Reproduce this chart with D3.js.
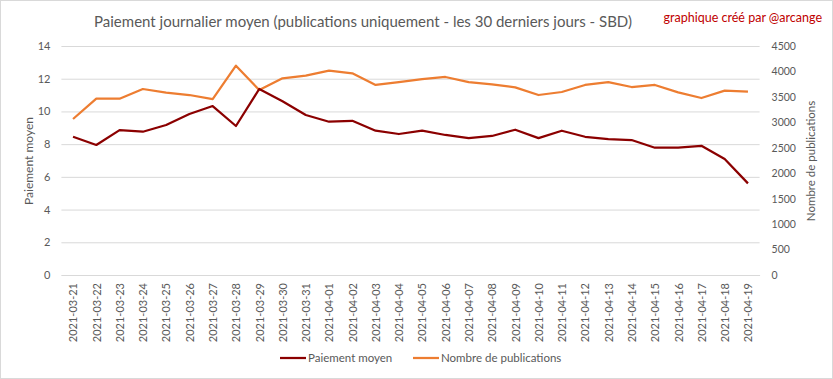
<!DOCTYPE html>
<html><head><meta charset="utf-8">
<script src="https://cdn.jsdelivr.net/npm/d3@7/dist/d3.min.js"></script>
<style>body{margin:0;background:#fff}svg{display:block}text{font-family:Lato,"Open Sans",sans-serif}</style>
</head><body><svg id="c" width="833" height="379"></svg>
<script>
const dates = ["2021-03-21","2021-03-22","2021-03-23","2021-03-24","2021-03-25","2021-03-26","2021-03-27","2021-03-28","2021-03-29","2021-03-30","2021-03-31","2021-04-01","2021-04-02","2021-04-03","2021-04-04","2021-04-05","2021-04-06","2021-04-07","2021-04-08","2021-04-09","2021-04-10","2021-04-11","2021-04-12","2021-04-13","2021-04-14","2021-04-15","2021-04-16","2021-04-17","2021-04-18","2021-04-19"];
const paiement = [8.45,7.95,8.86,8.76,9.17,9.84,10.33,9.11,11.37,10.62,9.78,9.37,9.43,8.82,8.62,8.82,8.56,8.37,8.50,8.88,8.37,8.82,8.45,8.31,8.25,7.78,7.78,7.90,7.09,5.60];
const publications = [3065,3465,3465,3655,3583,3537,3458,4113,3635,3865,3917,4015,3963,3734,3792,3851,3891,3792,3747,3688,3537,3596,3734,3792,3694,3734,3590,3478,3622,3602];
const leftTicks = [0,2,4,6,8,10,12,14];
const rightTicks = [0,500,1000,1500,2000,2500,3000,3500,4000,4500];

const svg = d3.select("#c");
const L = 61.4, R = 759.6, T = 46, B = 275;
svg.append("rect").attr("x",0.5).attr("y",0.5).attr("width",832).attr("height",378).attr("fill","#fff").attr("stroke","#d9d9d9");

const x = d3.scalePoint().domain(dates).range([L, R]).padding(0.5);
const yL = d3.scaleLinear().domain([0,14]).range([B, T]);
const yR = d3.scaleLinear().domain([0,4500]).range([B, T]);

// gridlines
svg.append("g").selectAll("line").data(leftTicks).join("line")
  .attr("x1",L).attr("x2",R).attr("y1",d=>yL(d)+0.5).attr("y2",d=>yL(d)+0.5)
  .attr("stroke","#d9d9d9").attr("stroke-width",1);

// left axis
const gl = svg.append("g").attr("transform",`translate(${L},0)`)
  .call(d3.axisLeft(yL).tickValues(leftTicks).tickSize(0).tickPadding(11).tickFormat(d3.format("d")));
gl.select(".domain").remove();
gl.selectAll("text").attr("fill","#595959").attr("font-size","11px");

// right axis
const gr = svg.append("g").attr("transform",`translate(${R},0)`)
  .call(d3.axisRight(yR).tickValues(rightTicks).tickSize(0).tickPadding(12).tickFormat(d3.format("d")));
gr.select(".domain").remove();
gr.selectAll("text").attr("fill","#595959").attr("font-size","10.5px");

// x axis
const gx = svg.append("g").attr("transform",`translate(0,${B})`)
  .call(d3.axisBottom(x).tickSize(0).tickPadding(0));
gx.select(".domain").attr("stroke","#d9d9d9");
gx.selectAll("text").attr("fill","#595959").attr("font-size","11px")
  .attr("transform","rotate(-90)").attr("text-anchor","end").attr("dx","-8px").attr("dy","0.35em").attr("y",0).attr("x",0);

// lines
const lineL = d3.line().x((d,i)=>x(dates[i])).y(d=>yL(d));
const lineR = d3.line().x((d,i)=>x(dates[i])).y(d=>yR(d));
svg.append("path").datum(publications).attr("d",lineR).attr("fill","none").attr("stroke","#ed7d31").attr("stroke-width",2.25).attr("stroke-linejoin","round");
svg.append("path").datum(paiement).attr("d",lineL).attr("fill","none").attr("stroke","#8b0000").attr("stroke-width",2.25).attr("stroke-linejoin","round");

// titles
svg.append("text").attr("x",363).attr("y",27).attr("text-anchor","middle").attr("font-size","15px").attr("fill","#595959")
  .text("Paiement journalier moyen (publications uniquement  - les 30 derniers jours - SBD)");
svg.append("text").attr("x",822).attr("y",22).attr("text-anchor","end").attr("font-size","12.5px").attr("fill","#c00000")
  .text("graphique créé par @arcange");
svg.append("text").attr("transform","translate(33,161) rotate(-90)").attr("text-anchor","middle").attr("font-size","12px").attr("fill","#595959").text("Paiement moyen");
svg.append("text").attr("transform","translate(815,161) rotate(-90)").attr("text-anchor","middle").attr("font-size","11.5px").attr("fill","#595959").text("Nombre de publications");

// legend
const legend = [{name:"Paiement moyen",color:"#8b0000",x:280},{name:"Nombre de publications",color:"#ed7d31",x:413}];
const lg = svg.append("g").selectAll("g").data(legend).join("g").attr("transform",d=>`translate(${d.x},358)`);
lg.append("line").attr("x1",0).attr("x2",26).attr("stroke",d=>d.color).attr("stroke-width",2.25);
lg.append("text").attr("x",28).attr("dy","0.35em").attr("font-size","11.5px").attr("fill","#595959").text(d=>d.name);
</script></body></html>
